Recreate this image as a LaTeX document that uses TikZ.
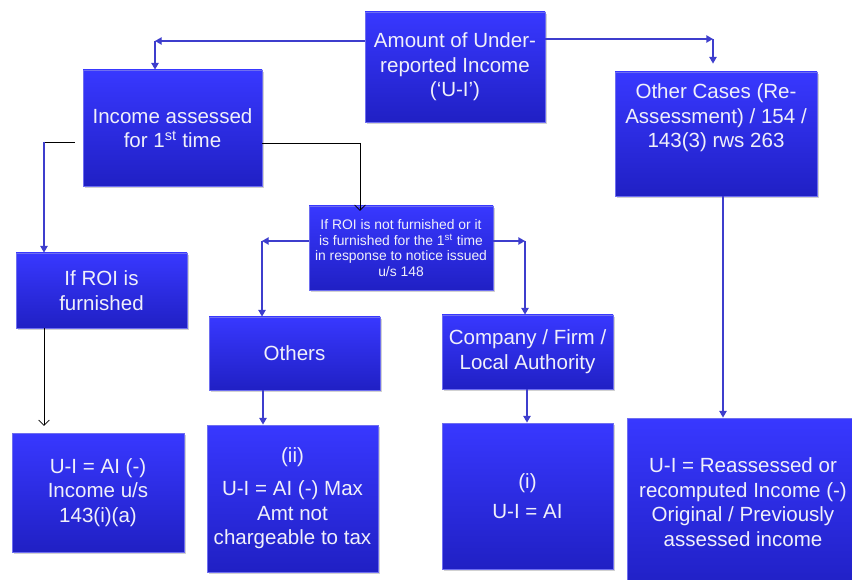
\documentclass[tikz,border=0pt]{standalone}
\usepackage{fontspec}
\setmainfont{Liberation Sans}
\usetikzlibrary{shadows,arrows.meta}
\definecolor{bxtop}{RGB}{56,56,255}
\definecolor{bxbot}{RGB}{32,32,196}
\definecolor{bxedge}{RGB}{110,110,240}
\definecolor{arrblue}{RGB}{62,62,205}
\definecolor{txtwhite}{RGB}{240,240,250}
\tikzset{
  bx/.style 2 args={draw=bxedge, line width=0.6pt, top color=bxtop, bottom color=bxbot,
    minimum width=#1*0.75pt, minimum height=#2*0.75pt,
    inner sep=0pt, text=txtwhite, align=center, font=\fontsize{15.4}{18.5}\selectfont,
    drop shadow={shadow xshift=1.2pt, shadow yshift=-1.2pt, opacity=0.3, fill=black!60}},
  txt/.style={text=txtwhite, align=center, font=\fontsize{15.4}{18.5}\selectfont, inner sep=0pt},
  arr/.style={draw=arrblue, line width=1pt, -{Triangle[length=5pt,width=5.5pt]}},
  barr/.style={draw=black, line width=0.6pt, -{Straight Barb[length=4pt,width=8pt]}},
  bln/.style={draw=black, line width=0.6pt},
}
\begin{document}
\begin{tikzpicture}[x=0.75pt,y=-0.75pt]
\useasboundingbox (0,0) rectangle (852,580);
% boxes
\node[bx={180}{110}] (n1) at (455,67) {Amount of Under-\\reported Income\\(‘U-I’)};
\node[bx={179}{116}] (n2) at (172.5,128) {Income assessed\\for 1\textsuperscript{st} time};
\node[bx={202}{124}] (n3) at (716,134) {};
\node[txt] (t3) at (716,118) {Other Cases (Re-\\Assessment) / 154 /\\143(3) rws 263};
\node[bx={184}{84}, font=\fontsize{10.4}{11.8}\selectfont] (n4) at (401,248) {If ROI is not furnished or it\\is furnished for the 1\textsuperscript{st} time\\in response to notice issued\\u/s 148};
\node[bx={171}{75}] (n5) at (101.5,290.5) {If ROI is\\furnished};
\node[bx={171}{73}] (n6) at (294.5,353.5) {Others};
\node[bx={171}{74}] (n7) at (527.5,352) {Company / Firm /\\Local Authority};
\node[bx={172}{119}] (n8) at (98,492.5) {U-I = AI (-)\\Income u/s\\143(i)(a)};
\node[bx={171}{147}] (n9) at (292.5,498.5) {(ii)\\[6pt]U-I = AI (-) Max\\Amt not\\chargeable to tax};
\node[bx={171}{146}] (n10) at (527.5,496) {(i)\\[4pt]U-I = AI};
\node[bx={233}{172}] (n11) at (743.5,504) {};
\node[txt] (t11) at (743,502) {U-I = Reassessed or\\recomputed Income (-)\\Original / Previously\\assessed income};
% bend coordinates
\coordinate (c1) at (155,41);
\coordinate (c2) at (713,39);
\coordinate (c3) at (44,142);
\coordinate (c4) at (360,143);
\coordinate (c5) at (262,241);
\coordinate (c6) at (525,241);
\coordinate (c7) at (263,400);
\coordinate (c8) at (527,400);
\coordinate (c9) at (723,300);
% connectors
\draw[arr] (n1.west |- c1) -- (c1);
\draw[arr] (c1) -- (c1 |- n2.north);
\draw[arr] (n1.east |- c2) -- (c2);
\draw[arr, shorten >=6pt] (c2) -- (c2 |- n3.north);
\draw[bln, shorten <=6pt] (n2.west |- c3) -- (c3);
\draw[arr] (c3) -- (c3 |- n5.north);
\draw[bln] (n2.east |- c4) -- (c4);
\draw[barr, shorten >=-4pt] (c4) -- (c4 |- n4.north);
\draw[arr] (n4.west |- c5) -- (c5);
\draw[arr] (c5) -- (c5 |- n6.north);
\draw[arr] (n4.east |- c6) -- (c6);
\draw[arr] (c6) -- (c6 |- n7.north);
\draw[arr] (c7 |- n6.south) -- (c7 |- n9.north);
\draw[arr] (c8 |- n7.south) -- (c8 |- n10.north);
\draw[barr, shorten >=5pt] (c3 |- n5.south) -- (c3 |- n8.north);
\draw[arr] (c9 |- n3.south) -- (c9 |- n11.north);
\end{tikzpicture}
\end{document}
